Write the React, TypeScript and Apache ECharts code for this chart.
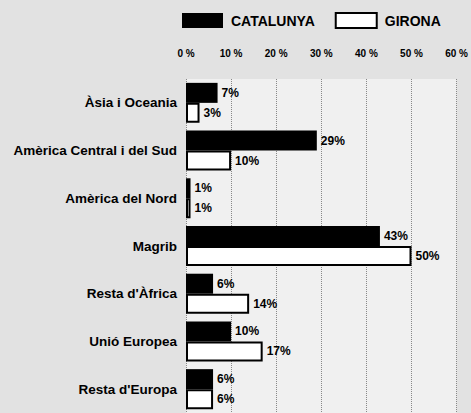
import React, { useEffect, useRef } from "react";
import * as echarts from "echarts";

const categories = [
  "Àsia i Oceania",
  "Amèrica Central i del Sud",
  "Amèrica del Nord",
  "Magrib",
  "Resta d'Àfrica",
  "Unió Europea",
  "Resta d'Europa",
];
const catalunya = [7, 29, 1, 43, 6, 10, 6];
const girona = [3, 10, 1, 50, 14, 17, 6];
const seriesNames = ["CATALUNYA", "GIRONA"];

const FONT = "'Liberation Sans', Arial, sans-serif";

export default function App() {
  const ref = useRef<HTMLDivElement>(null);
  useEffect(() => {
    if (!ref.current) return;
    const chart = echarts.init(ref.current, null, { renderer: "svg" });
    const labelStyle = {
      show: true,
      position: "right" as const,
      distance: 4,
      formatter: "{c}%",
      color: "#000",
      fontWeight: "bold" as const,
      fontSize: 12,
      fontFamily: FONT,
    };
    chart.setOption({
      animation: false,
      backgroundColor: "#e2e2e2",
      textStyle: { fontFamily: FONT },
      legend: {
        left: 182,
        top: 12,
        padding: 0,
        itemWidth: 41,
        itemHeight: 15,
        itemGap: 20,
        icon: "rect",
        data: seriesNames,
        textStyle: {
          color: "#000",
          fontWeight: "bold",
          fontSize: 14,
          fontFamily: FONT,
          padding: [0, 0, 0, 3],
        },
      },
      grid: {
        left: 186,
        right: 9,
        top: 79,
        bottom: -4,
        containLabel: false,
        show: true,
        backgroundColor: "#f0f0f0",
        borderWidth: 0,
      },
      xAxis: {
        type: "value",
        position: "top",
        min: 0,
        max: 60,
        interval: 10,
        axisLine: { show: false },
        axisTick: { show: false },
        axisLabel: {
          formatter: "{value} %",
          color: "#000",
          fontWeight: "bold",
          fontSize: 10,
          margin: 21,
          fontFamily: FONT,
        },
        splitLine: {
          show: true,
          lineStyle: { type: "dotted", color: "#888", width: 1 },
        },
      },
      yAxis: {
        type: "category",
        data: categories,
        inverse: true,
        axisLine: { show: false },
        axisTick: { show: false },
        axisLabel: {
          color: "#000",
          fontWeight: "bold",
          fontSize: 13.5,
          margin: 9,
          fontFamily: FONT,
        },
      },
      series: [
        {
          name: seriesNames[0],
          type: "bar",
          data: catalunya,
          barWidth: 20,
          barGap: "0%",
          itemStyle: { color: "#000" },
          label: labelStyle,
        },
        {
          name: seriesNames[1],
          type: "bar",
          data: girona,
          barWidth: 20,
          barGap: "0%",
          itemStyle: { color: "#fff", borderColor: "#000", borderWidth: 2 },
          label: labelStyle,
        },
      ],
    });
    return () => chart.dispose();
  }, []);
  return (
    <div
      ref={ref}
      style={{ position: "fixed", left: 0, top: 0, width: 471, height: 413 }}
    />
  );
}
